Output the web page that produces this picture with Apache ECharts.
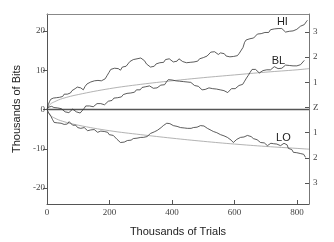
<!DOCTYPE html>
<html>
<head>
<meta charset="utf-8">
<script src="https://cdn.jsdelivr.net/npm/echarts@6/dist/echarts.min.js"></script>
<style>html,body{margin:0;padding:0;background:#fff}#c{width:334px;height:242px}</style>
</head>
<body>
<div id="c"></div>
<script>
// x in thousands of trials, y in thousands of bits
const hiData = [[0,0],[4,1.2],[8,2.0],[12,2.6],[16,2.2],[20,2.9],[25,3.4],[30,3.0],[35,3.5],[40,3.1],[45,3.6],[50,3.3],[55,3.9],[60,3.5],[65,3.9],[70,3.4],[75,4.2],[80,4.8],[85,4.4],[90,5.3],[97,5.7],[102,5.2],[108,5.5],[116,5.0],[122,5.9],[128,6.5],[134,6.2],[140,7.0],[146,6.6],[152,7.3],[158,7.8],[163,7.4],[168,7.9],[174,7.3],[180,7.0],[186,7.8],[192,8.6],[198,9.4],[204,10.2],[210,9.8],[216,10.5],[222,10.9],[228,10.4],[235,10.0],[241,10.8],[247,11.3],[253,11.0],[259,11.6],[265,12.2],[270,11.9],[276,12.7],[282,12.3],[288,12.9],[294,12.6],[300,13.1],[306,12.8],[312,12.4],[318,11.6],[324,11.1],[331,10.8],[337,11.3],[343,11.0],[349,11.6],[355,11.3],[361,11.9],[367,12.3],[373,12.0],[379,12.7],[385,13.2],[391,12.9],[397,12.4],[404,12.1],[410,12.6],[416,12.3],[422,12.9],[428,12.6],[434,12.2],[440,12.5],[446,11.9],[452,12.3],[458,12.0],[464,12.5],[470,12.1],[476,12.6],[482,12.3],[488,12.9],[494,12.6],[500,13.2],[506,13.0],[512,13.6],[518,14.1],[524,14.6],[530,14.2],[536,14.7],[542,14.3],[548,14.0],[555,14.4],[561,13.9],[567,14.2],[573,13.6],[579,13.9],[585,13.4],[591,13.8],[597,13.5],[603,14.0],[609,13.7],[615,14.3],[621,14.6],[627,15.8],[632,17.1],[637,17.7],[643,17.3],[649,18.0],[655,18.5],[661,18.2],[667,18.7],[673,19.2],[679,18.9],[685,19.3],[691,19.0],[697,19.6],[703,19.9],[709,19.6],[715,20.3],[721,20.8],[727,20.5],[733,21.0],[739,20.6],[745,20.3],[751,20.6],[757,20.1],[763,19.7],[769,19.5],[775,19.9],[781,19.6],[787,20.0],[793,19.7],[799,20.4],[805,20.9],[811,21.2],[817,20.8],[823,21.6],[829,22.3],[833,22.7]];

const blData = [[0,0],[5,0.6],[10,0.3],[15,0.8],[22,0.5],[28,0.1],[34,0.4],[40,-0.1],[46,0.2],[52,-0.3],[58,-0.6],[64,-0.2],[70,-0.8],[76,-0.4],[82,0.1],[88,-0.2],[94,-0.6],[100,-0.3],[106,-0.9],[112,-0.6],[118,0.2],[124,0.9],[130,1.3],[136,0.9],[142,1.2],[148,0.7],[154,1.0],[160,1.5],[166,1.9],[172,1.5],[178,1.7],[184,1.2],[190,1.6],[196,2.1],[202,2.6],[208,2.3],[214,2.9],[220,3.3],[226,3.0],[232,3.5],[238,3.2],[244,3.8],[250,3.5],[256,4.1],[262,4.5],[268,4.2],[274,4.7],[280,4.4],[286,5.0],[292,5.3],[298,5.0],[304,5.6],[310,5.3],[316,5.8],[322,5.5],[328,6.0],[334,5.7],[340,5.4],[346,5.8],[352,5.5],[358,5.9],[364,6.2],[370,6.6],[376,6.3],[382,7.0],[388,7.6],[394,7.3],[400,7.5],[406,7.0],[412,7.3],[418,6.9],[424,7.2],[430,6.8],[436,7.1],[442,7.4],[448,7.0],[454,6.6],[460,6.9],[466,6.4],[472,6.1],[478,6.5],[484,5.9],[490,5.6],[496,5.0],[500,4.6],[506,5.1],[512,4.9],[518,5.5],[524,5.7],[530,5.3],[536,5.6],[542,5.2],[548,5.5],[554,5.0],[560,5.3],[566,4.8],[572,4.5],[578,4.3],[584,4.8],[590,5.3],[596,5.6],[602,5.3],[608,5.8],[614,6.1],[620,5.8],[626,6.4],[632,7.2],[638,8.0],[644,8.7],[650,9.5],[656,10.2],[661,10.7],[667,10.2],[673,9.7],[679,9.3],[685,9.6],[691,9.9],[697,9.6],[703,10.1],[709,10.4],[715,10.1],[721,10.6],[727,10.9],[733,10.6],[739,10.4],[745,10.8],[751,10.5],[757,10.9],[763,11.3],[769,11.5],[775,11.2],[781,10.9],[787,11.1],[793,10.8],[799,11.1],[805,11.0],[811,11.4],[817,11.8],[823,12.5]];

const loData = [[0,0],[4,-0.7],[8,-1.2],[13,-1.8],[18,-2.6],[23,-3.3],[28,-2.9],[33,-3.4],[39,-3.0],[45,-3.5],[50,-3.2],[55,-3.8],[60,-3.4],[65,-3.7],[71,-3.1],[76,-3.6],[82,-4.0],[87,-4.3],[92,-4.0],[98,-4.6],[103,-5.1],[108,-4.8],[114,-5.0],[119,-4.6],[124,-5.0],[130,-5.4],[135,-5.6],[140,-5.2],[146,-5.5],[151,-5.1],[156,-5.5],[162,-5.8],[167,-5.9],[172,-5.5],[178,-5.8],[183,-5.6],[188,-6.0],[194,-5.8],[199,-6.4],[205,-6.2],[212,-6.6],[218,-7.0],[224,-7.6],[230,-8.1],[235,-8.4],[241,-8.0],[247,-8.3],[252,-7.8],[257,-7.9],[263,-7.5],[269,-7.8],[276,-7.4],[282,-7.7],[288,-7.3],[294,-7.5],[300,-7.1],[308,-7.1],[314,-6.7],[320,-6.9],[326,-6.4],[331,-6.1],[337,-6.3],[343,-5.7],[348,-5.9],[353,-5.3],[359,-5.0],[365,-4.6],[372,-4.1],[377,-3.8],[383,-3.5],[388,-3.3],[393,-3.6],[398,-3.4],[404,-4.1],[410,-3.9],[416,-4.3],[422,-4.1],[427,-4.6],[433,-4.3],[439,-4.7],[444,-4.5],[449,-4.8],[455,-4.5],[461,-4.8],[468,-4.6],[474,-4.2],[480,-4.5],[485,-4.0],[491,-4.1],[497,-4.4],[502,-4.2],[508,-4.6],[513,-4.8],[519,-5.0],[525,-5.3],[532,-5.6],[537,-5.4],[543,-5.9],[549,-6.1],[555,-6.4],[560,-6.2],[566,-6.7],[572,-6.9],[577,-7.1],[583,-7.5],[589,-7.8],[596,-8.4],[601,-8.0],[607,-7.6],[613,-7.3],[619,-7.1],[624,-6.8],[630,-7.0],[636,-6.6],[641,-6.6],[647,-7.0],[653,-6.9],[660,-7.4],[666,-7.9],[672,-7.7],[678,-8.1],[683,-8.4],[689,-8.7],[695,-8.5],[700,-9.0],[705,-9.2],[710,-8.9],[716,-8.6],[724,-8.7],[730,-9.0],[735,-8.8],[741,-9.3],[747,-9.2],[752,-8.9],[758,-8.6],[763,-8.4],[768,-9.0],[772,-9.9],[777,-10.4],[783,-10.2],[788,-10.9],[794,-10.6],[799,-11.0],[805,-10.8],[810,-11.2],[815,-11.6],[821,-11.4],[827,-12.2]];

// envelope curves
const upperEnv = [[0,0],[10,1.3],[25,2.0],[50,2.8],[100,3.8],[200,5.3],[300,6.4],[400,7.3],[500,8.1],[600,8.8],[700,9.5],[800,10.1],[838,10.4]];
const lowerEnv = [[0,0],[10,-1.4],[25,-2.2],[50,-3.0],[100,-4.0],[200,-5.4],[300,-6.4],[400,-7.3],[500,-8.1],[600,-8.8],[700,-9.4],[800,-9.9],[838,-10.1]];

const xTicks = [0,200,400,600,800];
const yTicks = [-20,-10,0,10,20];
const zTicks = [-3,-2,-1,0,1,2,3];

const labelPos = {HI:[753,22.2], BL:[740,12.4], LO:[756,-7.2]};

const chart = echarts.init(document.getElementById('c'), null, {renderer:'canvas'});
const serif = '"Liberation Serif", "DejaVu Serif", serif';
const sans = '"Liberation Sans", Arial, sans-serif';

function walk(name, data) {
  return {
    type:'line', name, data, xAxisIndex:0, yAxisIndex:0, showSymbol:false, symbol:'none',
    lineStyle:{color:'#333', width:0.8}, z:5, silent:true, animation:false,
    markPoint:{
      symbol:'circle', symbolSize:0, silent:true, animation:false,
      data:[{coord:labelPos[name], value:name}],
      label:{show:true, position:'inside', formatter:name, color:'#222', fontSize:11, fontFamily:sans}
    }
  };
}
function env(data) {
  return {type:'line', data, xAxisIndex:0, yAxisIndex:0, showSymbol:false, symbol:'none', smooth:0.4,
    lineStyle:{color:'#a0a0a0', width:0.8}, z:3, silent:true, animation:false};
}

const hiSeries = walk('HI', hiData);
hiSeries.markLine = {
  symbol:'none', silent:true, animation:false, label:{show:false},
  lineStyle:{color:'#555', width:1.4, type:'solid'},
  data:[{yAxis:0}]
};

chart.setOption({
  animation:false,
  backgroundColor:'#fff',
  grid:{left:47, right:25, top:14, bottom:38},
  xAxis:[{
    type:'value', min:0, max:838, interval:200, position:'bottom',
    axisLine:{onZero:false, lineStyle:{color:'#555', width:1}},
    axisTick:{inside:true, length:4, lineStyle:{color:'#555'}, customValues:xTicks},
    axisLabel:{color:'#444', fontSize:9, fontFamily:serif, margin:4, customValues:xTicks},
    splitLine:{show:false},
    name:'Thousands of Trials', nameLocation:'middle', nameGap:22,
    nameTextStyle:{color:'#222', fontSize:11, fontFamily:sans}
  },{
    type:'value', min:0, max:838, position:'top',
    axisLine:{show:true, onZero:false, lineStyle:{color:'#888', width:1}},
    axisTick:{show:false}, axisLabel:{show:false}, splitLine:{show:false}
  }],
  yAxis:[{
    type:'value', min:-24.05, max:24.3, position:'left',
    axisLine:{show:true, onZero:false, lineStyle:{color:'#555', width:1}},
    axisTick:{show:true, length:4, lineStyle:{color:'#555'}, customValues:yTicks},
    axisLabel:{color:'#444', fontSize:9, fontFamily:serif, margin:2, customValues:yTicks},
    splitLine:{show:false},
    name:'Thousands of Bits', nameLocation:'middle', nameGap:24, nameRotate:90,
    nameTextStyle:{color:'#222', fontSize:11, fontFamily:sans}
  },{
    type:'value', min:-3.83, max:3.71, position:'right',
    axisLine:{show:true, onZero:false, lineStyle:{color:'#777', width:1}},
    axisTick:{show:true, inside:true, length:4, lineStyle:{color:'#555'}, customValues:zTicks},
    axisLabel:{color:'#444', fontSize:9, fontFamily:serif, margin:4, customValues:zTicks,
      formatter:v => v === 0 ? 'Z' : String(Math.abs(v))},
    splitLine:{show:false}
  }],
  series:[
    env(upperEnv), env(lowerEnv),
    hiSeries, walk('BL', blData), walk('LO', loData)
  ]
});
</script>
</body>
</html>
